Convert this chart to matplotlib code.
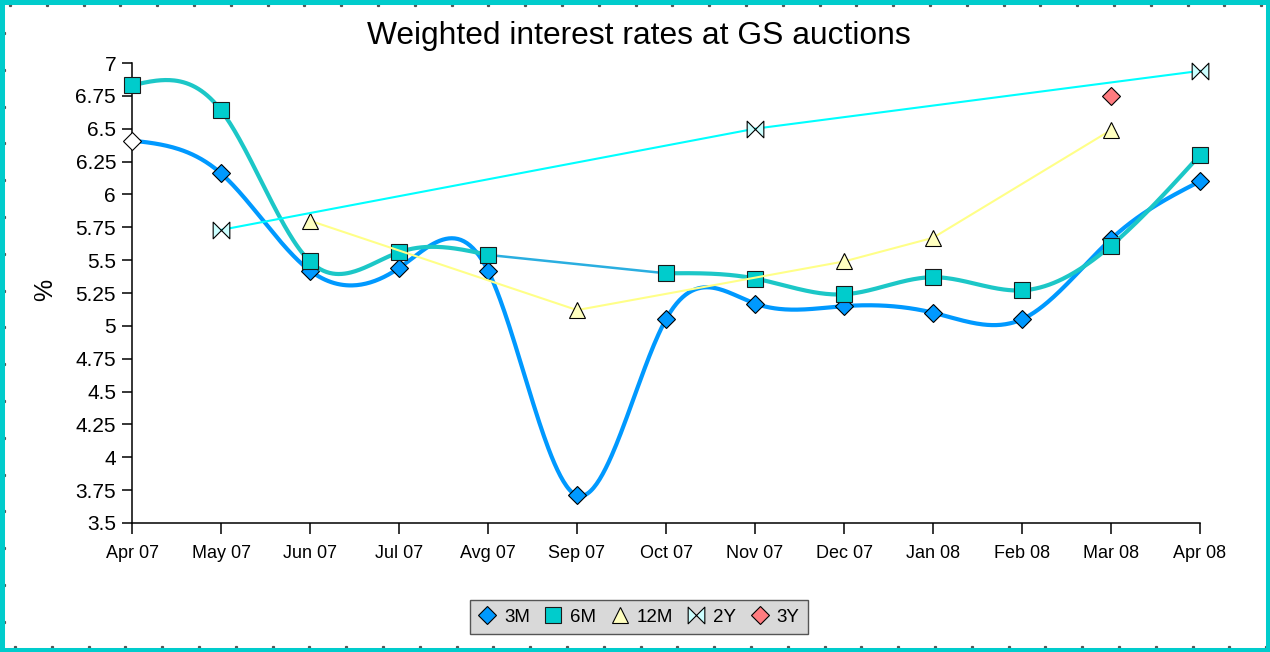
import numpy as np
import matplotlib
matplotlib.use("Agg")
import matplotlib.pyplot as plt
from matplotlib.path import Path
from matplotlib.patches import Rectangle
from matplotlib.lines import Line2D

plt.rcParams['font.family'] = ['Liberation Sans', 'DejaVu Sans']

# ---------------- data ----------------
months = ["Apr 07", "May 07", "Jun 07", "Jul 07", "Avg 07", "Sep 07", "Oct 07",
          "Nov 07", "Dec 07", "Jan 08", "Feb 08", "Mar 08", "Apr 08"]
nan = np.nan
r3m = [6.41, 6.16, 5.42, 5.44, 5.42, 3.71, 5.05, 5.17, 5.15, 5.10, 5.05, 5.66, 6.10]
r6m = [6.83, 6.64, 5.49, 5.56, 5.54, nan, 5.40, 5.36, 5.24, 5.37, 5.27, 5.61, 6.30]
r12m = [nan, nan, 5.80, nan, nan, 5.12, nan, nan, 5.49, 5.67, nan, 6.49, nan]
r2y = [nan, 5.73, nan, nan, nan, nan, nan, 6.50, nan, nan, nan, nan, 6.94]
r3y = [nan, nan, nan, nan, nan, nan, nan, nan, nan, nan, nan, 6.75, nan]
series_names = ["3M", "6M", "12M", "2Y", "3Y"]
yticks = [3.5, 3.75, 4, 4.25, 4.5, 4.75, 5, 5.25, 5.5, 5.75, 6, 6.25, 6.5, 6.75, 7]
ytick_labels = ["3.5", "3.75", "4", "4.25", "4.5", "4.75", "5", "5.25", "5.5",
                "5.75", "6", "6.25", "6.5", "6.75", "7"]
title = "Weighted interest rates at GS auctions"


# ---------------- helpers ----------------
def runs_of(ys):
    ok = ~np.isnan(np.asarray(ys, float))
    runs, cur = [], []
    for i, v in enumerate(ok):
        if v:
            cur.append(i)
        else:
            if cur:
                runs.append(cur)
            cur = []
    if cur:
        runs.append(cur)
    return runs


def natural_spline(xs, ys, n=60):
    xs = np.asarray(xs, float); ys = np.asarray(ys, float)
    m = len(xs)
    h = np.diff(xs)
    A = np.zeros((m, m)); r = np.zeros(m)
    A[0, 0] = 1; A[-1, -1] = 1
    for i in range(1, m - 1):
        A[i, i - 1] = h[i - 1]
        A[i, i] = 2 * (h[i - 1] + h[i])
        A[i, i + 1] = h[i]
        r[i] = 6 * ((ys[i + 1] - ys[i]) / h[i] - (ys[i] - ys[i - 1]) / h[i - 1])
    M = np.linalg.solve(A, r)
    bx, by = [], []
    for i in range(m - 1):
        t = np.linspace(xs[i], xs[i + 1], n)
        a = (xs[i + 1] - t) / h[i]
        b = (t - xs[i]) / h[i]
        yy = a * ys[i] + b * ys[i + 1] + ((a ** 3 - a) * M[i] + (b ** 3 - b) * M[i + 1]) * h[i] ** 2 / 6
        bx.extend(t); by.extend(yy)
    return np.array(bx), np.array(by)


x = np.arange(len(months))

W, H = 1270, 652
fig = plt.figure(figsize=(W / 100, H / 100), dpi=100)
ax = fig.add_axes([132 / W, 1 - 523 / H, 1068 / W, 460 / H])

c3m = "#0099FF"
c6m_line = "#1CC7C7"
c6m = "#00CCCC"
c12m_line = "#FFFF88"
c12m = "#FFFFC0"
c2y_line = "#00FFFF"
c2y = "#CCFFFF"
c3y = "#FF7C80"

bowtie = Path([(-1, 1), (1, -1), (1, 1), (-1, -1), (-1, 1)],
              [Path.MOVETO, Path.LINETO, Path.LINETO, Path.LINETO, Path.CLOSEPOLY])

MS_D, MS_S = 9.6, 12.0

# 3M
for run in runs_of(r3m):
    bx, by = natural_spline(x[run], np.array(r3m)[run])
    ax.plot(bx, by, color=c3m, lw=3.0, solid_capstyle='round', zorder=2, clip_on=False)
fc3 = ["white"] + [c3m] * (len(r3m) - 1)
for xi, yi, fc in zip(x, r3m, fc3):
    ax.plot(xi, yi, marker='D', ms=MS_D, mfc=fc, mec='black', mew=0.8, ls='none', zorder=3, clip_on=False)

# 6M
runs = runs_of(r6m)
for run in runs:
    bx, by = natural_spline(x[run], np.array(r6m)[run])
    ax.plot(bx, by, color=c6m_line, lw=3.0, solid_capstyle='round', zorder=4, clip_on=False)
for a, b in zip(runs[:-1], runs[1:]):
    ax.plot([x[a[-1]], x[b[0]]], [r6m[a[-1]], r6m[b[0]]], color="#2AAEE0", lw=1.8, zorder=4)
ax.plot(x, r6m, marker='s', ms=MS_S, mfc=c6m, mec='#1a1a1a', mew=0.8, ls='none', zorder=5, clip_on=False)

# 12M
m12 = ~np.isnan(np.array(r12m))
ax.plot(x[m12], np.array(r12m)[m12], color=c12m_line, lw=1.5, zorder=6)
ax.plot(x[m12], np.array(r12m)[m12], marker='^', ms=MS_S, mfc=c12m, mec='black', mew=0.8, ls='none', zorder=7, clip_on=False)

# 2Y
m2 = ~np.isnan(np.array(r2y))
ax.plot(x[m2], np.array(r2y)[m2], color=c2y_line, lw=1.5, zorder=8, clip_on=False)
ax.plot(x[m2], np.array(r2y)[m2], marker=bowtie, ms=MS_S, mfc=c2y, mec='black', mew=0.8, ls='none', zorder=9, clip_on=False)

# 3Y
m3 = ~np.isnan(np.array(r3y))
ax.plot(x[m3], np.array(r3y)[m3], marker='D', ms=MS_D, mfc=c3y, mec='black', mew=0.8, ls='none', zorder=10, clip_on=False)

# axes styling
ax.set_xlim(0, 12)
ax.set_ylim(3.5, 7)
ax.set_xticks(x)
ax.set_xticklabels(months, fontsize=13)
ax.set_yticks(yticks)
ax.set_yticklabels(ytick_labels, fontsize=15)
for s in ["top", "right"]:
    ax.spines[s].set_visible(False)
for s in ["left", "bottom"]:
    ax.spines[s].set_linewidth(1.1)
ax.tick_params(axis='y', direction='out', length=7.5, width=1.1, pad=4)
ax.tick_params(axis='x', direction='out', length=8, width=1.1, pad=8)
ax.patch.set_alpha(0)

fig.text(639 / W, 1 - 36 / H, title, ha='center', va='center', fontsize=22.9)
fig.text(45 / W, 1 - 290 / H, "%", rotation=90, ha='center', va='center', fontsize=18)

# legend
handles = [
    Line2D([], [], marker='D', ms=MS_D, mfc=c3m, mec='black', mew=0.8, ls='none'),
    Line2D([], [], marker='s', ms=MS_S, mfc=c6m, mec='#1a1a1a', mew=0.8, ls='none'),
    Line2D([], [], marker='^', ms=MS_S, mfc=c12m, mec='black', mew=0.8, ls='none'),
    Line2D([], [], marker=bowtie, ms=MS_S, mfc=c2y, mec='black', mew=0.8, ls='none'),
    Line2D([], [], marker='D', ms=MS_D, mfc=c3y, mec='black', mew=0.8, ls='none'),
]
leg = fig.legend(handles, series_names, loc='center', bbox_to_anchor=(639 / W, 1 - 617 / H),
                 ncol=5, fontsize=13.5, frameon=True, fancybox=False, framealpha=1,
                 facecolor='#D9D9D9', edgecolor='#555555', handlelength=0.9,
                 handletextpad=0.45, columnspacing=0.8, borderpad=0.45, borderaxespad=0)
leg.get_frame().set_linewidth(1.0)

# decorative ruler dots and cyan frame
xs_top = np.arange(10, W, 36.8)
ys_left = np.arange(33, H, 36.8)
fig.add_artist(Line2D(xs_top / W, np.full_like(xs_top, 1 - 5 / H), transform=fig.transFigure,
                      color='#555555', marker='s', ms=1.3, ls='none'))
fig.add_artist(Line2D(xs_top / W + 5 / W, np.full_like(xs_top, 1 - 647 / H), transform=fig.transFigure,
                      color='#555555', marker='s', ms=1.3, ls='none'))
fig.add_artist(Line2D(np.full_like(ys_left, 4 / W), 1 - ys_left / H, transform=fig.transFigure,
                      color='#555555', marker='s', ms=1.3, ls='none'))
fig.add_artist(Rectangle((0, 0), 1, 1, transform=fig.transFigure, fill=False,
                         edgecolor='#00CCCC', lw=6.5, zorder=20))

fig.savefig("out.png", dpi=100)
